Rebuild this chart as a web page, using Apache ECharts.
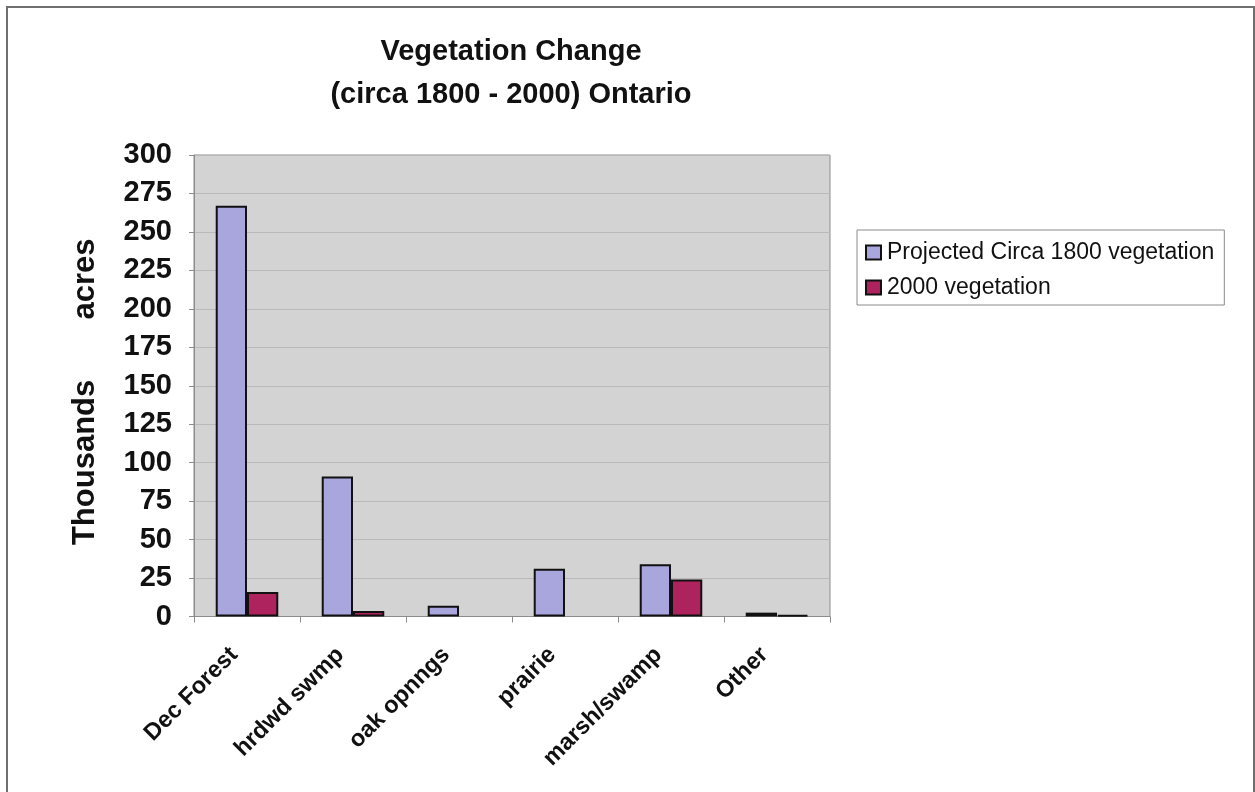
<!DOCTYPE html>
<html>
<head>
<meta charset="utf-8">
<script src="https://cdn.jsdelivr.net/npm/echarts@6/dist/echarts.min.js"></script>
<style>
  html, body { margin: 0; padding: 0; background: #ffffff; }
  #chart { width: 1255px; height: 792px; }
</style>
</head>
<body>
<div id="chart"></div>
<script>
// Vegetation cover in Ontario, thousands of acres
const categories = ['Dec Forest', 'hrdwd swmp', 'oak opnngs', 'prairie', 'marsh/swamp', 'Other'];
const circa1800 = [267, 91, 7, 31, 34, 2.5];
const year2000 = [16, 3.5, 0, 0, 24, 1];
const seriesNames = ['Projected Circa 1800 vegetation', '2000 vegetation'];
const yTicks = { min: 0, max: 300, step: 25 };

const FONT = '"Liberation Sans", Arial, Helvetica, sans-serif';

// zero-height bars get no outline so they leave no stray line on the axis
function barData(values) {
  return values.map(v => (v === 0 ? { value: v, itemStyle: { borderWidth: 0 } } : v));
}

const chart = echarts.init(document.getElementById('chart'), null, { renderer: 'canvas' });

chart.setOption({
  animation: false,
  backgroundColor: '#ffffff',
  title: {
    text: 'Vegetation Change\n(circa 1800 - 2000) Ontario',
    left: 511,
    top: 30,
    padding: 0,
    textAlign: 'center',
    textStyle: {
      fontFamily: FONT,
      fontSize: 29,
      fontWeight: 'bold',
      lineHeight: 43,
      color: '#111111'
    }
  },
  legend: {
    orient: 'vertical',
    left: 857,
    top: 230,
    padding: [11, 10, 6, 8],
    itemGap: 12,
    itemWidth: 15,
    itemHeight: 14,
    icon: 'rect',
    borderColor: '#8a8a8a',
    borderWidth: 1,
    backgroundColor: '#ffffff',
    textStyle: {
      fontFamily: FONT,
      fontSize: 23,
      color: '#111111',
      padding: [0, 0, 0, 1]
    },
    data: seriesNames
  },
  grid: {
    left: 194,
    right: 425,
    top: 155,
    bottom: 175.5,
    show: true,
    backgroundColor: '#d3d3d3',
    borderColor: '#8c8c8c',
    borderWidth: 1
  },
  xAxis: {
    type: 'category',
    data: categories,
    axisLine: { lineStyle: { color: '#8c8c8c', width: 1 } },
    axisTick: { show: true, length: 6, lineStyle: { color: '#8c8c8c' } },
    axisLabel: {
      interval: 0,
      rotate: 45,
      margin: 22,
      padding: [0, 18, 0, 0],
      fontFamily: FONT,
      fontSize: 23.5,
      fontWeight: 'bold',
      color: '#111111'
    }
  },
  yAxis: {
    type: 'value',
    min: yTicks.min,
    max: yTicks.max,
    interval: yTicks.step,
    name: 'Thousands       acres',
    nameLocation: 'middle',
    nameGap: 93,
    nameTextStyle: {
      fontFamily: FONT,
      fontSize: 31,
      fontWeight: 'bold',
      color: '#111111',
      padding: [0, 12, 0, 0]
    },
    axisLine: { show: true, lineStyle: { color: '#8c8c8c', width: 1 } },
    axisTick: { show: true, length: 5, lineStyle: { color: '#8c8c8c' } },
    axisLabel: {
      margin: 22,
      fontFamily: FONT,
      fontSize: 29,
      fontWeight: 'bold',
      color: '#111111'
    },
    splitLine: { show: true, lineStyle: { color: '#b9b9b9', width: 1 } }
  },
  series: [
    {
      name: seriesNames[0],
      type: 'bar',
      data: barData(circa1800),
      barGap: '0%',
      barCategoryGap: '41%',
      itemStyle: { color: '#a9a5dd', borderColor: '#111111', borderWidth: 2 }
    },
    {
      name: seriesNames[1],
      type: 'bar',
      data: barData(year2000),
      itemStyle: { color: '#ae225d', borderColor: '#111111', borderWidth: 2 }
    }
  ],
  graphic: [
    {
      // outer chart frame
      type: 'rect',
      silent: true,
      shape: { x: 7, y: 7, width: 1247, height: 820 },
      style: { fill: 'none', stroke: '#707070', lineWidth: 2 }
    }
  ]
});
</script>
</body>
</html>
